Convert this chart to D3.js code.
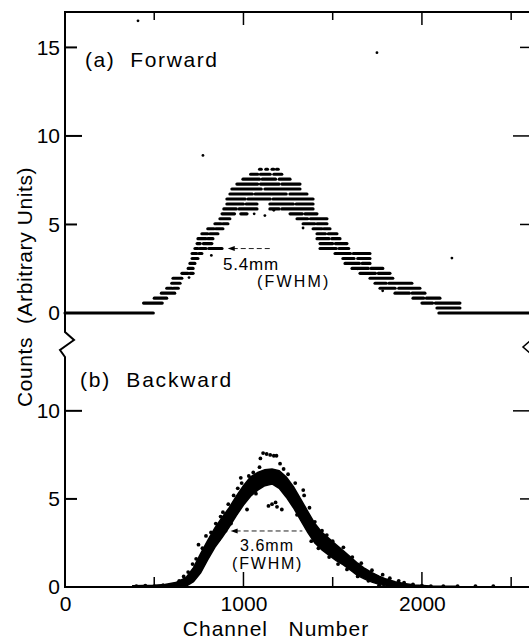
<!DOCTYPE html>
<html>
<head>
<meta charset="utf-8">
<title>Forward / Backward spectra</title>
<style>
  body { margin: 0; padding: 0; background: #fff; }
  text { font-family: "Liberation Sans", Arial, sans-serif; fill: #000; }
</style>
</head>
<body>
<div id="chart"></div>
<script src="https://d3js.org/d3.v7.min.js"></script>
<script>
// ---- values ----
var xMajor = [0, 1000, 2000];
var xMinor = [500, 1500, 2500];
var xInnerMajor = [1000, 2000];
var fwdTicks = [0, 5, 10, 15];
var bwdTicks = [0, 5, 10];

// (a) forward : counts come in rows, [first channel, last channel, counts]
var fwdRows = [
  [0, 495, 0], [2095, 2600, 0],
  [2084, 2213, 0.28],
  [440, 545, 0.56], [2000, 2060, 0.56], [2075, 2213, 0.56],
  [500, 570, 0.84], [1950, 2010, 0.84], [2025, 2101, 0.84],
  [540, 615, 1.12], [1849, 1930, 1.12], [1945, 2017, 1.12],
  [570, 600, 1.40], [608, 635, 1.40], [1765, 1850, 1.40], [1870, 1989, 1.40],
  [598, 645, 1.68], [1737, 1800, 1.68], [1815, 1944, 1.68],
  [605, 655, 1.96], [1709, 1837, 1.96],
  [655, 690, 2.24], [700, 718, 2.24], [1653, 1740, 2.24], [1755, 1821, 2.24],
  [690, 718, 2.52], [1608, 1700, 2.52], [1715, 1781, 2.52],
  [700, 728, 2.80], [1569, 1650, 2.80], [1665, 1709, 2.80],
  [712, 745, 3.08], [1557, 1620, 3.08], [1640, 1709, 3.08],
  [712, 738, 3.36], [750, 767, 3.36], [1513, 1600, 3.36], [1615, 1709, 3.36],
  [728, 745, 3.64], [755, 790, 3.64], [805, 880, 3.64], [1429, 1520, 3.64], [1535, 1590, 3.64],
  [740, 758, 3.92], [775, 823, 3.92], [1429, 1500, 3.92], [1515, 1580, 3.92],
  [745, 790, 4.20], [800, 829, 4.20], [1412, 1480, 4.20], [1495, 1541, 4.20],
  [767, 800, 4.48], [812, 857, 4.48], [1412, 1460, 4.48], [1475, 1524, 4.48],
  [800, 835, 4.76], [845, 885, 4.76], [1390, 1440, 4.76], [1450, 1485, 4.76],
  [840, 875, 5.04], [885, 913, 5.04], [1334, 1400, 5.04], [1412, 1468, 5.04],
  [868, 924, 5.32], [1300, 1360, 5.32], [1375, 1468, 5.32],
  [880, 950, 5.60], [985, 1020, 5.60], [1261, 1330, 5.60], [1345, 1412, 5.60],
  [890, 960, 5.88], [975, 1076, 5.88], [1148, 1200, 5.88], [1215, 1390, 5.88],
  [907, 1000, 6.16], [1015, 1076, 6.16], [1148, 1280, 6.16], [1295, 1390, 6.16],
  [907, 1010, 6.44], [1025, 1150, 6.44], [1165, 1390, 6.44],
  [924, 1050, 6.72], [1065, 1240, 6.72], [1260, 1356, 6.72],
  [935, 1100, 7.00], [1120, 1317, 7.00],
  [963, 1080, 7.28], [1095, 1200, 7.28], [1215, 1317, 7.28],
  [997, 1090, 7.56], [1105, 1180, 7.56], [1200, 1261, 7.56],
  [1040, 1080, 7.84], [1095, 1150, 7.84], [1170, 1215, 7.84],
  [1090, 1100, 8.12], [1125, 1135, 8.12], [1160, 1170, 8.12], [1185, 1195, 8.12]
];
var fwdStray = [[409, 16.5], [773, 8.9], [1748, 14.7], [2168, 3.1], [1170, 5.8], [1334, 4.8], [1060, 5.6],
  [820, 3.25], [695, 2.0], [1640, 2.5], [1780, 1.25], [1120, 5.5]];

// (b) backward : dense band (channel, lower edge, upper edge) plus loose points
var bwdChannel = [380, 500, 560, 620, 680, 720, 760, 800, 840, 880, 920, 960, 1000, 1040, 1080, 1120, 1160, 1200, 1240, 1280, 1320, 1360, 1400, 1440, 1480, 1520, 1560, 1600, 1640, 1680, 1720, 1760, 1800, 1850, 1900, 1960, 2050, 2200];
var bwdLow  = [0, 0, 0, 0, 0.05, 0.3, 0.8, 1.55, 2.25, 2.8, 3.4, 4.05, 4.65, 5.15, 5.5, 5.75, 5.85, 5.6, 5.1, 4.5, 3.8, 3.1, 2.5, 2.1, 1.8, 1.5, 1.25, 0.95, 0.65, 0.45, 0.28, 0.15, 0.05, 0, 0, 0, 0, 0];
var bwdHigh = [0.07, 0.1, 0.14, 0.25, 0.55, 1.1, 1.9, 2.65, 3.35, 3.95, 4.5, 5.15, 5.75, 6.25, 6.5, 6.65, 6.7, 6.6, 6.25, 5.7, 5.0, 4.3, 3.6, 3.1, 2.75, 2.4, 2.05, 1.7, 1.35, 1.05, 0.82, 0.62, 0.45, 0.3, 0.2, 0.12, 0.06, 0.04];
var bwdDots = [
  [400, 0.05], [450, 0.08], [500, 0.05], [550, 0.1], [640, 0.35], [665, 0.6], [690, 0.85], [705, 0.5],
  [715, 1.3], [735, 1.6], [748, 2.4], [758, 1.2], [770, 2.2], [790, 2.9], [805, 1.9], [818, 3.1],
  [830, 2.4], [845, 3.6], [862, 2.7], [872, 4.0], [885, 4.25], [900, 3.2], [915, 4.7], [930, 3.6],
  [945, 5.2], [958, 4.2], [968, 5.6], [985, 6.2], [990, 5.9], [1000, 4.8], [1020, 4.4], [1030, 6.3],
  [1055, 6.5], [1070, 5.3], [1090, 6.8], [1095, 7.3], [1110, 7.6], [1130, 7.55], [1150, 7.5],
  [1170, 7.45], [1185, 7.45], [1140, 4.6], [1160, 4.7], [1180, 4.8], [1188, 4.55], [1215, 4.4],
  [1205, 7.0], [1225, 6.7], [1250, 6.4], [1270, 5.2], [1290, 5.9], [1300, 4.1], [1335, 5.5],
  [1340, 5.2], [1355, 3.7], [1370, 4.5], [1380, 2.6], [1400, 3.7], [1420, 2.2], [1440, 3.2],
  [1467, 2.95], [1480, 1.7], [1500, 2.6], [1530, 1.3], [1560, 2.25], [1580, 1.0], [1610, 1.7],
  [1640, 0.6], [1660, 1.35], [1700, 0.35], [1720, 0.95], [1760, 0.1], [1780, 0.7], [1820, 0.5],
  [1870, 0.35], [1900, 0.25], [1950, 0.15], [2000, 0.08], [2050, 0.05], [2120, 0.05], [2200, 0.05],
  [2300, 0.05], [2400, 0.05]
];

// FWHM markers: [from channel, to channel, level]
var fwdFwhm = [912, 1150, 3.64];
var bwdFwhm = [928, 1330, 3.18];

// ---- drawing ----
var width = 529, height = 639;
var svg = d3.select("#chart").append("svg")
    .attr("width", width)
    .attr("height", height);

var x = d3.scaleLinear().domain([0, 2600]).range([65, 529]);
var yTop = d3.scaleLinear().domain([0, 17]).range([313, 12]);
var yBot = d3.scaleLinear().domain([0, 13]).range([587, 358]);

var frame = svg.append("g").attr("fill", "none").attr("stroke", "#000").attr("stroke-width", 2);
frame.append("line").attr("x1", 64).attr("x2", 529).attr("y1", yTop(17)).attr("y2", yTop(17));
frame.append("line").attr("x1", 64).attr("x2", 529).attr("y1", yBot(0)).attr("y2", yBot(0));
// left axis with break
frame.append("path").attr("stroke-linejoin", "miter")
    .attr("d", "M65," + yTop(17) + "V332L74,340L60,350L65,357V" + yBot(0));
// break mark on the right side
frame.append("path").attr("stroke-width", 1.5).attr("d", "M530,341L523,347L530,353");

// y ticks, inward, both sides
function yTickLines(scale, vals) {
  vals.filter(function(d) { return d > 0; }).forEach(function(d) {
    var major = d % 10 === 0;
    frame.append("line").attr("x1", 65).attr("x2", 65 + (major ? 17 : 12))
        .attr("y1", scale(d)).attr("y2", scale(d));
    frame.append("line").attr("x1", 529).attr("x2", 529 - (major ? 16 : 9))
        .attr("y1", scale(d)).attr("y2", scale(d)).attr("stroke-width", 1.5);
  });
}
yTickLines(yTop, fwdTicks);
yTickLines(yBot, bwdTicks);

// x ticks, inward on top and bottom
xMinor.concat(xInnerMajor).forEach(function(d) {
  var major = xInnerMajor.indexOf(d) >= 0;
  frame.append("line").attr("x1", x(d)).attr("x2", x(d)).attr("stroke-width", 1.5)
      .attr("y1", yTop(17)).attr("y2", yTop(17) + (major ? 13 : 8));
  frame.append("line").attr("x1", x(d)).attr("x2", x(d)).attr("stroke-width", 1.5)
      .attr("y1", yBot(0)).attr("y2", yBot(0) - (major ? 15 : 10));
});

// tick labels through d3 axes
function labelAxis(g) {
  g.select(".domain").remove();
  g.selectAll("text").style("font-size", "21px").style("font-family", "Liberation Sans, Arial, sans-serif");
}
svg.append("g").attr("transform", "translate(65,0)")
    .call(d3.axisLeft(yTop).tickValues(fwdTicks).tickSize(0).tickPadding(5)).call(labelAxis);
svg.append("g").attr("transform", "translate(65,0)")
    .call(d3.axisLeft(yBot).tickValues(bwdTicks).tickSize(0).tickPadding(5)).call(labelAxis);
svg.append("g").attr("transform", "translate(0," + yBot(0) + ")")
    .call(d3.axisBottom(x).tickValues(xMajor).tickFormat(d3.format("d")).tickSize(0).tickPadding(9)).call(labelAxis);

// (a) forward rows
var fwd = svg.append("g").attr("stroke", "#000").attr("stroke-width", 3.1).attr("stroke-linecap", "round");
fwd.selectAll("line").data(fwdRows).enter().append("line")
    .attr("x1", function(d) { return x(d[0]); })
    .attr("x2", function(d) { return x(d[1]); })
    .attr("y1", function(d) { return yTop(d[2]); })
    .attr("y2", function(d) { return yTop(d[2]); });
svg.selectAll("circle.stray").data(fwdStray).enter().append("circle")
    .attr("class", "stray")
    .attr("cx", function(d) { return x(d[0]); })
    .attr("cy", function(d) { return yTop(d[1]); })
    .attr("r", 1.4);

// (b) backward band + points
var band = d3.area()
    .x(function(d, i) { return x(bwdChannel[i]); })
    .y0(function(d, i) { return yBot(bwdLow[i]); })
    .y1(function(d, i) { return yBot(bwdHigh[i]); })
    .curve(d3.curveLinear);
svg.append("path").datum(bwdChannel).attr("d", band)
    .attr("fill", "#000").attr("stroke", "#000").attr("stroke-width", 1.5);
svg.selectAll("circle.bwd").data(bwdDots).enter().append("circle")
    .attr("class", "bwd")
    .attr("cx", function(d) { return x(d[0]); })
    .attr("cy", function(d) { return yBot(d[1]); })
    .attr("r", 1.9);

// FWHM arrows
function fwhm(m, scale) {
  var y0 = scale(m[2]);
  svg.append("line").attr("x1", x(m[0]) + 5).attr("x2", x(m[1]))
      .attr("y1", y0).attr("y2", y0)
      .attr("stroke", "#222").attr("stroke-width", 1).attr("stroke-dasharray", "5,3");
  svg.append("path").attr("fill", "#000")
      .attr("d", "M" + x(m[0]) + "," + y0 + "l7,-2.5v5z");
}
fwhm(fwdFwhm, yTop);
fwhm(bwdFwhm, yBot);

svg.append("text").attr("x", x(885)).attr("y", yTop(2.45)).style("font-size", "17px")
    .style("letter-spacing", "0.8px").text("5.4mm");
svg.append("text").attr("x", x(1076)).attr("y", yTop(1.47)).style("font-size", "16px")
    .style("letter-spacing", "2.2px").text("(FWHM)");
svg.append("text").attr("x", x(981)).attr("y", yBot(2.05)).style("font-size", "16px")
    .style("letter-spacing", "1px").text("3.6mm");
svg.append("text").attr("x", x(936)).attr("y", yBot(1.03)).style("font-size", "16px")
    .style("letter-spacing", "1.8px").text("(FWHM)");

// panel labels and axis titles
svg.append("text").attr("x", 85).attr("y", 67).style("font-size", "21px")
    .style("letter-spacing", "1.6px").style("white-space", "pre").text("(a)  Forward");
svg.append("text").attr("x", 80).attr("y", 387).style("font-size", "21px")
    .style("letter-spacing", "1.8px").style("white-space", "pre").text("(b)  Backward");
svg.append("text").attr("x", 276).attr("y", 636).attr("text-anchor", "middle")
    .style("font-size", "21px").style("letter-spacing", "1px").style("white-space", "pre")
    .text("Channel   Number");
svg.append("text").attr("transform", "translate(32,287) rotate(-90)").attr("text-anchor", "middle")
    .style("font-size", "21px").style("letter-spacing", "0.6px").style("white-space", "pre")
    .text("Counts  (Arbitrary Units)");
</script>
</body>
</html>
